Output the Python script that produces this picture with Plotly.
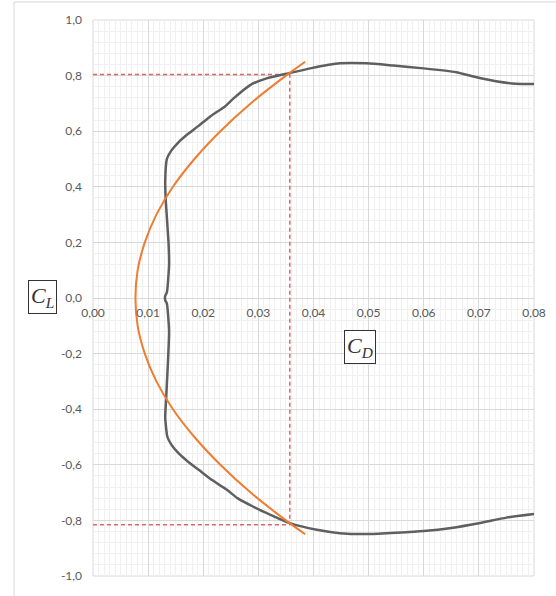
import plotly.graph_objects as go

# drag polar (gray), from upper right round to lower right
polar_cd = [0.0800, 0.0767, 0.0731, 0.0690, 0.0659, 0.0600, 0.0545, 0.0497, 0.0448, 0.0394,
            0.0354, 0.0315, 0.0285, 0.0255, 0.0240, 0.0214, 0.0192, 0.0172, 0.0155, 0.0142,
            0.0134, 0.0131, 0.0132, 0.0137, 0.0138, 0.0134, 0.0131, 0.0131, 0.0134, 0.0138,
            0.0133, 0.0131, 0.0135, 0.0143, 0.0156, 0.0173, 0.0193, 0.0216, 0.0243, 0.0262,
            0.0290, 0.0322, 0.0357, 0.0406, 0.0448, 0.0500, 0.0600, 0.0650, 0.0700, 0.0750,
            0.0800]
polar_cl = [0.770, 0.771, 0.780, 0.797, 0.812, 0.826, 0.836, 0.844, 0.844, 0.826,
            0.808, 0.790, 0.766, 0.718, 0.690, 0.655, 0.620, 0.590, 0.560, 0.530,
            0.500, 0.420, 0.350, 0.200, 0.120, 0.020, 0.008, -0.008, -0.020, -0.120,
            -0.350, -0.430, -0.500, -0.530, -0.560, -0.590, -0.620, -0.655, -0.690, -0.720,
            -0.750, -0.780, -0.810, -0.834, -0.846, -0.849, -0.838, -0.827, -0.810, -0.790,
            -0.777]

# parabolic approximation (orange)
para_cl = [-0.85, -0.8, -0.7, -0.6, -0.5, -0.4, -0.3, -0.2, -0.1, 0.0,
           0.1, 0.2, 0.3, 0.4, 0.5, 0.6, 0.7, 0.8, 0.85]
para_cd = [0.0385, 0.0350, 0.0286, 0.0231, 0.0184, 0.0145, 0.0115, 0.0094, 0.0081, 0.0077,
           0.0081, 0.0094, 0.0115, 0.0145, 0.0184, 0.0231, 0.0286, 0.0350, 0.0385]

# red dashed guide lines
guide_cd = [0.0, 0.0357, 0.0357, 0.0]
guide_cl = [0.804, 0.804, -0.816, -0.816]

x_ticks = [0.0, 0.01, 0.02, 0.03, 0.04, 0.05, 0.06, 0.07, 0.08]
x_tick_labels = ["0,00", "0,01", "0,02", "0,03", "0,04", "0,05", "0,06", "0,07", "0,08"]
y_ticks = [-1.0, -0.8, -0.6, -0.4, -0.2, 0.0, 0.2, 0.4, 0.6, 0.8, 1.0]
y_tick_labels = ["-1,0", "-0,8", "-0,6", "-0,4", "-0,2", "0,0", "0,2", "0,4", "0,6", "0,8", "1,0"]

fig = go.Figure()
fig.add_trace(go.Scatter(x=guide_cd, y=guide_cl, mode="lines",
                         line=dict(color="#e06666", width=1.5, dash="4px,3px")))
fig.add_trace(go.Scatter(x=polar_cd, y=polar_cl, mode="lines",
                         line=dict(color="#5f5f5f", width=2.5, shape="spline", smoothing=0.5)))
fig.add_trace(go.Scatter(x=para_cd, y=para_cl, mode="lines",
                         line=dict(color="#ed7d31", width=2, shape="spline")))

tick_font = dict(family="Lato", size=12, color="#595959")
fig.update_xaxes(range=[0, 0.08], tickvals=x_ticks, ticktext=x_tick_labels,
                 anchor="free", position=0.5, showline=False, zeroline=False, automargin=False,
                 showgrid=True, gridcolor="#d9d9d9", gridwidth=1,
                 minor=dict(dtick=0.001, tick0=0, showgrid=True, gridcolor="#f0f0f0", gridwidth=1),
                 tickfont=tick_font, ticklabelstandoff=6)
fig.update_yaxes(range=[-1, 1], tickvals=y_ticks, ticktext=y_tick_labels,
                 showline=False, zeroline=False, automargin=False,
                 showgrid=True, gridcolor="#d9d9d9", gridwidth=1,
                 minor=dict(dtick=0.04, tick0=0, showgrid=True, gridcolor="#f0f0f0", gridwidth=1),
                 tickfont=tick_font, ticklabelstandoff=10)

# plot frame and outer chart border
fig.add_shape(type="rect", xref="paper", yref="paper", x0=0, x1=1, y0=0, y1=1,
              line=dict(color="#d9d9d9", width=1), layer="below")
fig.add_shape(type="rect", xref="paper", yref="paper", x0=-0.179, x1=1.2, y0=-0.2, y1=1.0324,
              line=dict(color="#d9d9d9", width=1), layer="below")

box_font = dict(family="Liberation Serif", size=22, color="#333333")
fig.add_annotation(xref="paper", yref="paper", x=-0.1145, y=0.501,
                   xanchor="center", yanchor="middle",
                   text="<i>C</i><sub><i>L</i></sub>", showarrow=False,
                   font=box_font, bordercolor="#333333", borderwidth=1, borderpad=2,
                   bgcolor="white")
fig.add_annotation(x=0.04835, y=-0.176, xanchor="center", yanchor="middle",
                   text="<i>C</i><sub><i>D</i></sub>", showarrow=False,
                   font=box_font, bordercolor="#333333", borderwidth=1, borderpad=2,
                   bgcolor="white")

fig.update_layout(width=556, height=596, showlegend=False,
                  margin=dict(l=93, r=22, t=20, b=20),
                  plot_bgcolor="white", paper_bgcolor="white")
fig.write_html("out.html", config={"displayModeBar": False},
               post_script="document.body.style.margin='0';")
